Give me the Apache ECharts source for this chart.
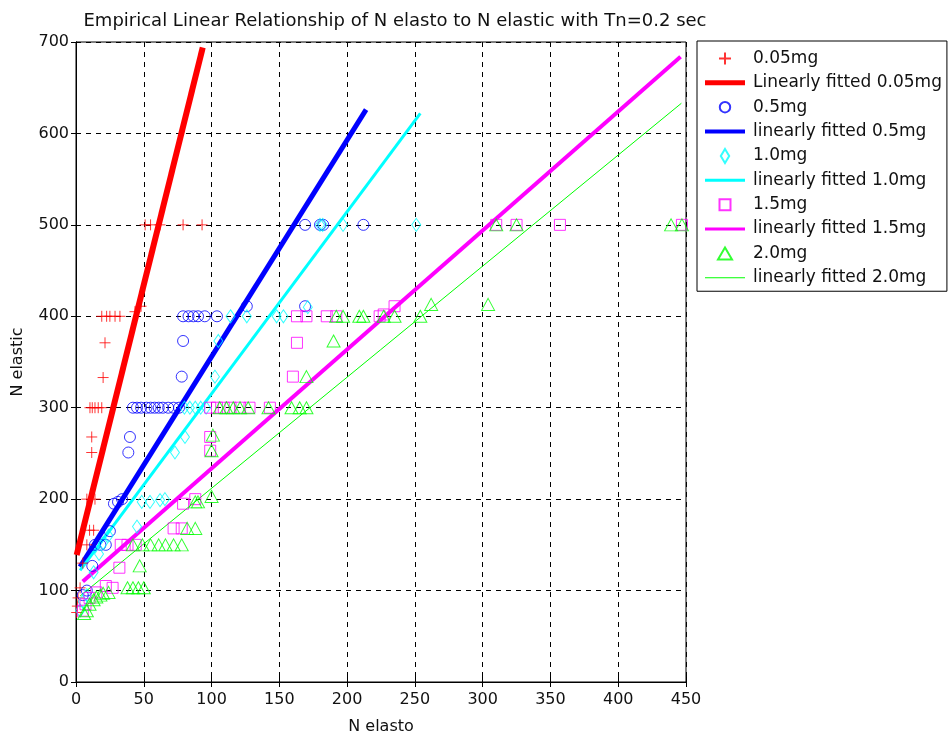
<!DOCTYPE html>
<html>
<head>
<meta charset="utf-8">
<script src="https://cdn.jsdelivr.net/npm/echarts@6/dist/echarts.min.js"></script>
<style>
html,body{margin:0;padding:0;background:#fff;}
#chart{width:949px;height:740px;}
</style>
</head>
<body>
<div id="chart"></div>
<script>
// ---- data ----
var titleText = 'Empirical Linear Relationship of N elasto to N elastic with Tn=0.2 sec';
var xTicks = [0, 50, 100, 150, 200, 250, 300, 350, 400, 450];
var yTicks = [0, 100, 200, 300, 400, 500, 600, 700];
var seriesNames = ['0.05mg', 'Linearly fitted 0.05mg', '0.5mg', 'linearly fitted 0.5mg',
  '1.0mg', 'linearly fitted 1.0mg', '1.5mg', 'linearly fitted 1.5mg', '2.0mg', 'linearly fitted 2.0mg'];

var pts005 = [[0.5,76],[1,83],[1.5,92],[3,103],[5,130],[8,150],[10,166],[13,166],[8,200],[14,200],
  [11.6,251],[11.6,268],[10.3,300],[12,300],[14,300],[16.4,300],[19,300],[20,333],[21.4,371],
  [19,400],[22.6,400],[25,400],[28.8,400],[32.4,400],[43.5,405],[48,411],
  [51,500],[55,500],[62,500],[79,500],[93,500]];
var fit005 = [[0.5,139],[93.5,694]];

var pts05 = [[5,95],[8,100],[12,127],[14,150],[18,150],[22,150],[25,165],[28,195],[31,197],[34,200],
  [38.6,251],[39.8,268],[42,300],[45,300],[48,300],[52,300],[55,300],[58,300],[61,300],[64,300],
  [68,300],[72,300],[76,300],[78,334],[79,373],[79,400],[83,400],[86.6,400],[90,400],[95,400],
  [104,400],[126,411],[169,411],[169,500],[180,500],[182.4,500],[212,500]];
var fit05 = [[3,126],[214,626]];

var pts10 = [[3,78],[5,88],[8,95],[13,120],[17,140],[20,152],[24,160],[45,170],[48.5,197],[54.6,197],
  [62,199],[65.6,200],[73,251],[80.4,268],[80,300],[84,300],[88,300],[92,300],[96,300],[102.5,334],
  [105,373],[114,400],[126,400],[148,400],[153,400],[171,410],[180,500],[182,500],[197,500],[251,500]];
var fit10 = [[3,122],[254,622]];

var pts15 = [[5,78],[7,85],[10,92],[15,98],[22,105],[27,103],[32,125],[33,150],[38,150],[44,150],
  [72,168],[78,168],[79,195],[88,200],[99,253],[99,268],[99,300],[104,300],[109,300],[114,300],
  [121,300],[128,300],[143,300],[160,334],[163,371],[163,400],[170,400],[185,400],[192,400],
  [224,400],[227,402],[235,411],[310,500],[325,500],[357,500],[447,500]];
var fit15 = [[5,110],[446,684]];

var pts20 = [[6,75],[8,78],[10,85],[13,90],[15,93],[18,95],[20,97],[24,98],[38,103],[42,103],
  [46,103],[50,103],[47,127],[42,150],[49,150],[55,150],[61,150],[66,150],[72,150],[78,150],
  [82,168],[88,168],[88,197],[90,197],[100,203],[100,253],[101,270],[106,300],[111,300],[116,300],
  [121,300],[127,300],[142,300],[159,300],[165,300],[170,300],[170,334],[190,373],[192,400],
  [197,400],[209,400],[212,400],[227,400],[235,400],[254,400],[262,413],[304,413],
  [310,500],[325,500],[439,500],[447,500]];
var fit20 = [[3,94],[446.6,633]];

// ---- styling ----
var FONT = '"DejaVu Sans", sans-serif';
var plusPath = 'path://M5,0L5,10M0,5L10,5';
var icons = {
  plus: 'path://M7,1L7,13M1,7L13,7M0,0M14,14',
  circle: 'path://M1.8,7A5.2,5.2,0,1,1,12.2,7A5.2,5.2,0,1,1,1.8,7ZM0,0M14,14',
  diamond: 'path://M7,0L11.2,7L7,14L2.8,7Z',
  square: 'path://M1.5,1.5L12.5,1.5L12.5,12.5L1.5,12.5ZM0,0M14,14',
  triangle: 'path://M7,1L14,13L0,13ZM0,0M14,14'
};
function lineIcon(h) {
  var top = (14 - h) / 2;
  return 'path://M0,' + top + 'L40,' + top + 'L40,' + (top + h) + 'L0,' + (top + h) + 'ZM0,0M40,14';
}
function scatter(name, data, symbol, size, color) {
  return {
    name: name, type: 'scatter', data: data, symbol: symbol, symbolSize: size,
    clip: false, xAxisIndex: 0, yAxisIndex: 0,
    itemStyle: { color: 'none', borderColor: color, borderWidth: 1 },
    emphasis: { disabled: true }, z: 3
  };
}
function fitLine(name, data, color, width) {
  return {
    name: name, type: 'line', data: data, symbol: 'none', showSymbol: false,
    xAxisIndex: 0, yAxisIndex: 0,
    lineStyle: { color: color, width: width }, itemStyle: { color: color },
    emphasis: { disabled: true }, z: 2, animation: false
  };
}

var chart = echarts.init(document.getElementById('chart'), null, { renderer: 'canvas' });
var gridLine = { show: true, lineStyle: { color: '#000', type: [5, 5], width: 1 } };
var option = {
  animation: false,
  backgroundColor: '#fff',
  title: {
    text: titleText, left: 390, top: 7, textAlign: 'center',
    textStyle: { fontFamily: FONT, fontSize: 18, fontWeight: 'normal', color: '#111' }
  },
  grid: { left: 76, top: 42, width: 610, height: 645, show: true, borderColor: '#000', borderWidth: 1, backgroundColor: 'transparent' },
  xAxis: [{
    type: 'value', min: xTicks[0], max: xTicks[xTicks.length - 1], interval: 50,
    name: 'N elasto', nameLocation: 'middle', nameGap: 37,
    nameTextStyle: { fontFamily: FONT, fontSize: 16, color: '#111' },
    axisLine: { show: true, lineStyle: { color: '#000', width: 1 } },
    axisTick: { show: true, inside: true, length: 5, lineStyle: { color: '#000' } },
    axisLabel: { fontFamily: FONT, fontSize: 16, color: '#111', margin: 10 },
    splitLine: gridLine
  }, {
    type: 'value', position: 'top', min: xTicks[0], max: xTicks[xTicks.length - 1], interval: 50,
    axisLine: { show: true, lineStyle: { color: '#000' } },
    axisTick: { show: true, inside: true, length: 5, lineStyle: { color: '#000' } },
    axisLabel: { show: false }, splitLine: { show: false }
  }],
  yAxis: [{
    type: 'value', min: yTicks[0], max: yTicks[yTicks.length - 1], interval: 100,
    name: 'N elastic', nameLocation: 'middle', nameGap: 50, nameRotate: 90,
    nameTextStyle: { fontFamily: FONT, fontSize: 16, color: '#111' },
    axisLine: { show: true, lineStyle: { color: '#000', width: 1 } },
    axisTick: { show: true, inside: true, length: 5, lineStyle: { color: '#000' } },
    axisLabel: { fontFamily: FONT, fontSize: 16, color: '#111', margin: 7 },
    splitLine: gridLine
  }, {
    type: 'value', position: 'right', min: yTicks[0], max: yTicks[yTicks.length - 1], interval: 100,
    axisLine: { show: true, lineStyle: { color: '#000' } },
    axisTick: { show: true, inside: true, length: 5, lineStyle: { color: '#000' } },
    axisLabel: { show: false }, splitLine: { show: false }
  }],
  legend: {
    orient: 'vertical', left: 697, top: 41, width: 250,
    padding: [8, 5, 5, 8], itemWidth: 40, itemHeight: 14, itemGap: 6.36,
    backgroundColor: '#fff', borderColor: '#000', borderWidth: 1,
    textStyle: { fontFamily: FONT, fontSize: 17, lineHeight: 14, color: '#111', padding: [0, 0, 0, 3] },
    data: [
      { name: seriesNames[0], icon: icons.plus },
      { name: seriesNames[1], icon: lineIcon(5) },
      { name: seriesNames[2], icon: icons.circle },
      { name: seriesNames[3], icon: lineIcon(4) },
      { name: seriesNames[4], icon: icons.diamond },
      { name: seriesNames[5], icon: lineIcon(3) },
      { name: seriesNames[6], icon: icons.square },
      { name: seriesNames[7], icon: lineIcon(3) },
      { name: seriesNames[8], icon: icons.triangle },
      { name: seriesNames[9], icon: lineIcon(1) }
    ],
    selectedMode: false
  },
  series: [
    scatter(seriesNames[0], pts005, plusPath, 11, '#ff0000'),
    fitLine(seriesNames[1], fit005, '#ff0000', 6),
    scatter(seriesNames[2], pts05, 'circle', 11, '#0000ff'),
    fitLine(seriesNames[3], fit05, '#0000ff', 5),
    scatter(seriesNames[4], pts10, 'diamond', [9, 13], '#00ffff'),
    fitLine(seriesNames[5], fit10, '#00ffff', 3),
    scatter(seriesNames[6], pts15, 'rect', 11, '#ff00ff'),
    fitLine(seriesNames[7], fit15, '#ff00ff', 4),
    scatter(seriesNames[8], pts20, 'triangle', [13, 12], '#00ff00'),
    fitLine(seriesNames[9], fit20, '#00ff00', 1)
  ]
};
chart.setOption(option);
</script>
</body>
</html>
